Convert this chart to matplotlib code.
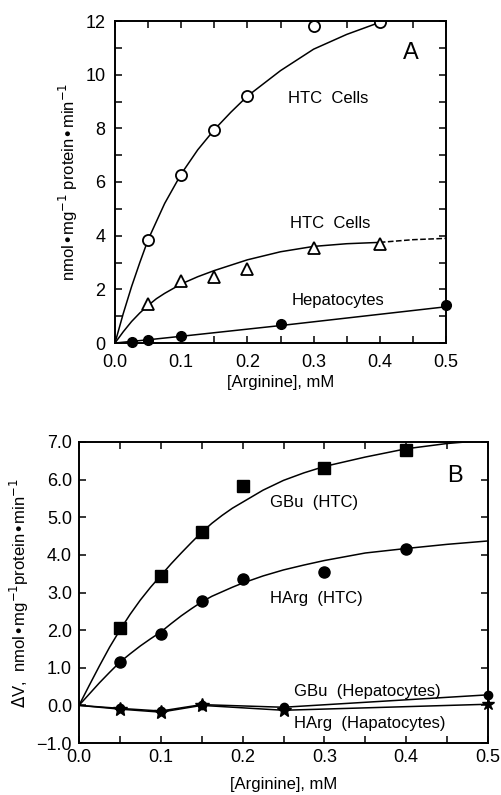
import numpy as np
import matplotlib
matplotlib.use("Agg")
import matplotlib.pyplot as plt
from matplotlib.ticker import MultipleLocator, FormatStrFormatter, FuncFormatter

plt.rcParams['font.family'] = ['Liberation Sans', 'DejaVu Sans']

# ---- panel A: measured points
a_x_open = [0.05, 0.10, 0.15, 0.20, 0.30, 0.40]
a_y_open = [3.85, 6.25, 7.95, 9.2, 11.8, 11.95]
a_x_tri = [0.05, 0.10, 0.15, 0.20, 0.30, 0.40]
a_y_tri = [1.45, 2.3, 2.45, 2.75, 3.55, 3.7]
a_x_hep = [0.025, 0.05, 0.10, 0.25, 0.50]
a_y_hep = [0.05, 0.1, 0.25, 0.7, 1.4]

# panel A: fitted curves
a_cx_open = [0.0, 0.0125, 0.025, 0.0375, 0.05, 0.075, 0.10, 0.125, 0.15, 0.175,
             0.20, 0.25, 0.30, 0.35, 0.40]
a_cy_open = [0.0, 1.1, 2.1, 3.0, 3.85, 5.2, 6.3, 7.2, 7.95, 8.6,
             9.2, 10.15, 10.95, 11.5, 11.95]
a_cx_tri = [0.0, 0.0125, 0.025, 0.0375, 0.05, 0.0625, 0.075, 0.10, 0.125, 0.15,
            0.20, 0.25, 0.30, 0.35, 0.40]
a_cy_tri = [0.0, 0.42, 0.8, 1.12, 1.4, 1.65, 1.85, 2.2, 2.47, 2.7,
            3.1, 3.4, 3.6, 3.7, 3.75]
a_cx_tri_dash = [0.40, 0.45, 0.50]
a_cy_tri_dash = [3.75, 3.85, 3.9]
a_cx_hep = [0.0, 0.05, 0.10, 0.25, 0.50]
a_cy_hep = [0.0, 0.12, 0.25, 0.65, 1.35]

# ---- panel B: measured points
b_x = [0.05, 0.10, 0.15, 0.20, 0.30, 0.40]
b_gbu_htc = [2.05, 3.43, 4.6, 5.83, 6.3, 6.8]
b_harg_htc = [1.15, 1.9, 2.77, 3.37, 3.55, 4.16]
b_x_hep = [0.05, 0.10, 0.15, 0.25]
b_gbu_hep = [-0.08, -0.15, 0.02, -0.05]
b_harg_hep = [-0.1, -0.18, 0.0, -0.12]

# panel B: fitted curves
b_cx = [0.0, 0.0125, 0.025, 0.0375, 0.05, 0.0625, 0.075, 0.0875, 0.10, 0.1125,
        0.125, 0.1375, 0.15, 0.1625, 0.175, 0.1875, 0.20, 0.225, 0.25, 0.275,
        0.30, 0.35, 0.40, 0.45, 0.50]
b_cy_gbu = [0.0, 0.53, 1.05, 1.55, 2.0, 2.42, 2.8, 3.14, 3.45, 3.76,
            4.05, 4.33, 4.6, 4.84, 5.05, 5.24, 5.4, 5.72, 5.98, 6.18,
            6.35, 6.6, 6.82, 6.96, 7.05]
b_cy_harg = [0.0, 0.3, 0.6, 0.88, 1.15, 1.37, 1.58, 1.77, 1.95, 2.17,
             2.38, 2.57, 2.75, 2.9, 3.02, 3.14, 3.25, 3.44, 3.6, 3.73,
             3.85, 4.05, 4.17, 4.28, 4.37]
b_cx_hep = [0.0, 0.05, 0.10, 0.15, 0.25, 0.50]
b_cy_gbu_hep = [0.0, -0.08, -0.15, 0.02, -0.05, 0.28]
b_cy_harg_hep = [0.0, -0.1, -0.18, 0.0, -0.13, 0.03]

fig = plt.figure(figsize=(5.01, 7.95), dpi=100)
W, H = 501, 795
axA = fig.add_axes([115 / W, 1 - 343 / H, 331 / W, 322 / H])
axB = fig.add_axes([79 / W, 1 - 743 / H, 409 / W, 301 / H])

fs = 12
tfs = 13
lw = 1.1


def style(ax):
    for s in ax.spines.values():
        s.set_linewidth(1.4)
    ax.tick_params(direction='in', top=True, right=True, labelsize=tfs,
                   length=5, width=1.1, pad=5)
    ax.tick_params(which='minor', direction='in', top=True, right=True,
                   length=5, width=1.1)


# panel A
axA.plot(a_cx_open, a_cy_open, color='black', lw=lw)
axA.plot(a_cx_tri, a_cy_tri, color='black', lw=lw)
axA.plot(a_cx_tri_dash, a_cy_tri_dash, color='black', lw=lw, ls='--')
axA.plot(a_cx_hep, a_cy_hep, color='black', lw=lw)
axA.plot(a_x_open, a_y_open, 'o', ms=8, mfc='white', mec='black', mew=1.3)
axA.plot(a_x_tri, a_y_tri, '^', ms=8, mfc='white', mec='black', mew=1.3)
axA.plot(a_x_hep, a_y_hep, 'o', ms=7, color='black', clip_on=False)
axA.set_xlim(0, 0.5)
axA.set_ylim(0, 12)
axA.xaxis.set_major_locator(MultipleLocator(0.1))
axA.xaxis.set_minor_locator(MultipleLocator(0.05))
axA.yaxis.set_major_locator(MultipleLocator(2))
axA.yaxis.set_minor_locator(MultipleLocator(1))
axA.xaxis.set_major_formatter(FormatStrFormatter('%.1f'))
style(axA)
axA.tick_params(axis='x', pad=8)
axA.tick_params(axis='y', pad=7)
axA.set_xlabel('[Arginine], mM', fontsize=fs, labelpad=3)
axA.set_ylabel(r'nmol$\bullet$mg$^{-1}$ protein$\bullet$min$^{-1}$', fontsize=fs, labelpad=4)
axA.text(0.262, 9.1, 'HTC  Cells', fontsize=fs, ha='left', va='center')
axA.text(0.264, 4.45, 'HTC  Cells', fontsize=fs, ha='left', va='center')
axA.text(0.267, 1.6, 'Hepatocytes', fontsize=fs, ha='left', va='center')
axA.text(0.435, 10.8, 'A', fontsize=17, ha='left', va='center')

# panel B
axB.plot(b_cx, b_cy_gbu, color='black', lw=lw)
axB.plot(b_cx, b_cy_harg, color='black', lw=lw)
axB.plot(b_cx_hep, b_cy_gbu_hep, color='black', lw=lw)
axB.plot(b_cx_hep, b_cy_harg_hep, color='black', lw=lw)
axB.plot(b_x, b_gbu_htc, 's', ms=8, color='black')
axB.plot(b_x, b_harg_htc, 'o', ms=8, color='black')
axB.plot(b_x_hep, b_gbu_hep, 'o', ms=6, color='black')
axB.plot(b_x_hep, b_harg_hep, '*', ms=10, color='black')
axB.plot([0.5], [0.28], 'o', ms=6, color='black', clip_on=False)
axB.plot([0.5], [0.03], '*', ms=9, color='black', clip_on=False)
axB.set_xlim(0, 0.5)
axB.set_ylim(-1, 7)
axB.xaxis.set_major_locator(MultipleLocator(0.1))
axB.xaxis.set_minor_locator(MultipleLocator(0.05))
axB.yaxis.set_major_locator(MultipleLocator(1))
axB.xaxis.set_major_formatter(FormatStrFormatter('%.1f'))
axB.yaxis.set_major_formatter(FuncFormatter(lambda v, p: ('%.1f' % v).replace('-', '\u2212')))
style(axB)
axB.tick_params(axis='x', pad=4)
axB.set_xlabel('[Arginine], mM', fontsize=fs, labelpad=8)
axB.set_ylabel(r'$\Delta$V,  nmol$\bullet$mg$^{-1}$protein$\bullet$min$^{-1}$', fontsize=fs, labelpad=4)
axB.text(0.233, 5.4, 'GBu  (HTC)', fontsize=fs, ha='left', va='center')
axB.text(0.233, 2.85, 'HArg  (HTC)', fontsize=fs, ha='left', va='center')
axB.text(0.263, 0.38, 'GBu  (Hepatocytes)', fontsize=fs, ha='left', va='center')
axB.text(0.263, -0.47, 'HArg  (Hapatocytes)', fontsize=fs, ha='left', va='center')
axB.text(0.45, 6.1, 'B', fontsize=17, ha='left', va='center')

fig.savefig('out.png', dpi=100)
